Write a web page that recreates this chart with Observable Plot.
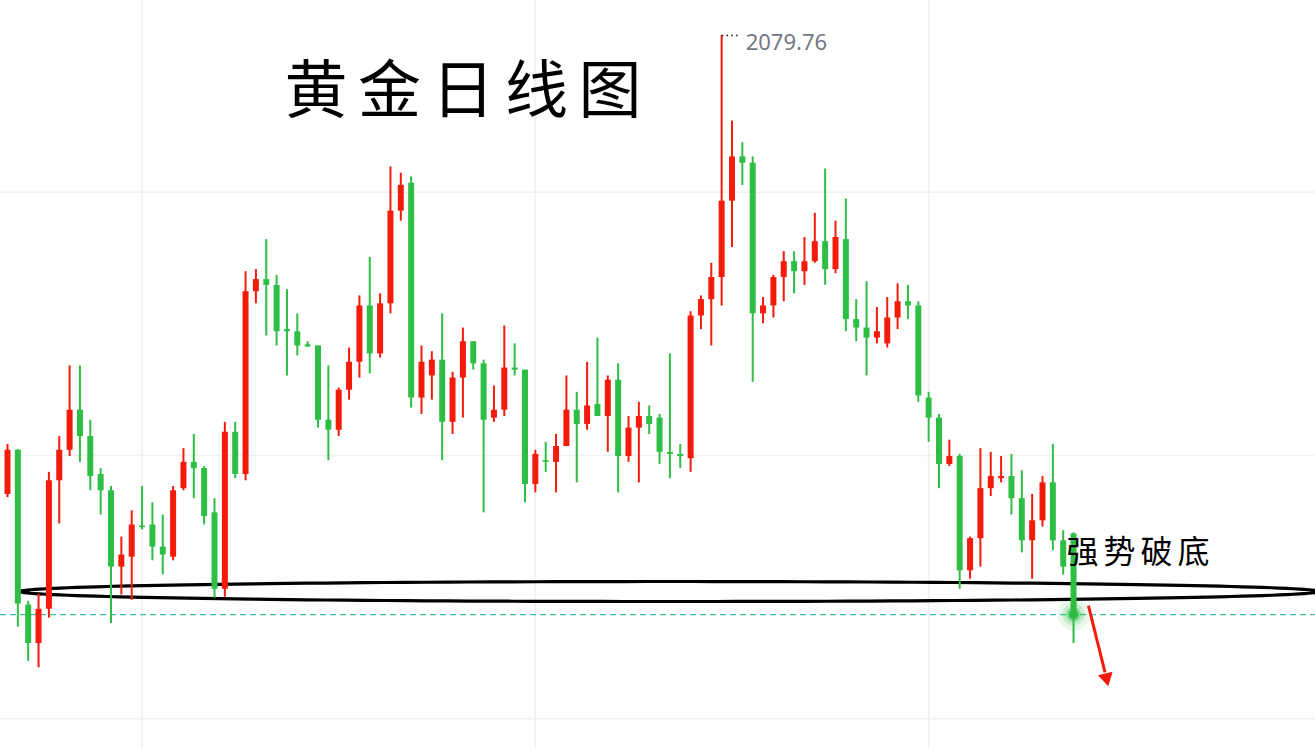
<!DOCTYPE html>
<html><head><meta charset="utf-8">
<script src="https://cdn.jsdelivr.net/npm/d3@7"></script>
<script src="https://cdn.jsdelivr.net/npm/@observablehq/plot@0.6"></script>
<style>html,body{margin:0;padding:0;background:#fff;overflow:hidden}</style>
</head><body><div id="chart"></div>
<script>
// Daily gold candles (price estimates)
const open = [1992.6,2001.0,1971.6,1964.3,1970.8,1995.2,2001.0,2008.6,2003.6,1996.4,
1993.3,1978.8,1980.7,1986.6,1986.8,1982.6,1980.7,1993.7,1998.7,1997.5,
1989.1,1974.6,2004.4,1996.4,2031.1,2033.4,2032.3,2023.9,2023.5,2021.0,
2020.8,2006.7,2004.8,2012.4,2017.7,2028.4,2019.3,2028.8,2046.4,2051.7,
2010.9,2015.1,2018.1,2006.3,2014.7,2021.6,2017.4,2007.1,2008.6,2016.6,
2016.2,1994.5,1999.0,1998.7,2001.7,2008.6,2005.9,2009.7,2007.4,2014.3,
1999.8,2005.2,2007.4,2007.1,2000.6,2000.2,1999.4,2026.5,2029.6,2033.8,
2048.3,2056.7,2055.5,2026.9,2028.4,2033.8,2036.8,2034.9,2036.8,2040.6,
2035.3,2041.0,2025.8,2024.2,2022.3,2021.2,2026.1,2029.2,2028.4,2010.9,
2007.1,1998.3,1999.8,1978.1,1984.2,1993.7,1995.6,1996.0,1991.8,1983.8,
1987.6,1994.8,1983.8,1985.1];
const close = [2001.0,1971.8,1964.3,1970.8,1995.2,2001.0,2008.6,2003.6,1996.0,1993.3,
1978.8,1981.1,1986.8,1986.3,1982.6,1981.1,1993.3,1998.7,1997.5,1988.4,
1974.6,2004.4,1996.4,2031.1,2033.4,2032.3,2023.5,2023.5,2020.8,2020.6,
2006.7,2004.8,2012.4,2017.7,2028.4,2019.3,2028.8,2046.4,2051.3,2010.9,
2017.7,2018.1,2006.3,2014.7,2021.6,2017.4,2006.7,2008.6,2016.6,2016.2,
1994.5,2000.2,1998.7,2001.7,2008.6,2005.9,2009.4,2007.4,2014.3,1999.8,
2005.2,2007.4,2005.9,2000.6,2000.2,1999.8,2026.5,2029.6,2033.8,2048.3,
2056.7,2055.5,2026.9,2028.4,2033.8,2036.8,2034.9,2036.8,2040.6,2035.3,
2041.4,2025.8,2024.2,2022.3,2023.5,2026.1,2029.2,2028.4,2011.3,2007.1,
1998.3,1999.8,1978.1,1984.2,1993.7,1996.0,1996.0,1991.8,1983.8,1987.6,
1994.8,1983.8,1978.8,1969.8];
const high = [2002.1,2001.1,1972.3,1973.7,1996.8,2003.6,2017.0,2017.0,2006.7,1997.5,
1994.1,1984.5,1989.5,1994.1,1991.0,1988.7,1994.1,2001.3,2004.0,1997.9,
1991.8,2006.3,2006.3,2034.9,2035.3,2041.0,2034.2,2031.5,2026.9,2021.6,
2020.8,2017.0,2012.8,2020.4,2030.3,2037.6,2030.7,2054.8,2053.6,2052.9,
2020.8,2019.7,2026.9,2015.8,2024.2,2021.6,2018.1,2013.2,2024.6,2021.2,
2016.2,2001.0,2002.5,2004.0,2015.1,2012.0,2017.7,2022.3,2015.1,2017.4,
2007.4,2010.1,2009.4,2007.8,2019.3,2002.1,2027.3,2030.3,2036.5,2079.76,
2063.5,2059.4,2056.7,2030.0,2034.2,2038.7,2038.7,2041.4,2046.0,2054.4,
2044.5,2048.7,2029.6,2033.0,2028.1,2030.0,2032.6,2032.3,2029.2,2012.0,
2007.8,2002.9,2000.2,1984.5,2001.3,2000.6,1999.8,2000.2,1997.1,1992.6,
1996.0,2002.1,1985.7,1985.3];
const low = [1992.0,1967.4,1960.9,1959.7,1969.1,1987.0,1999.8,1998.7,1993.3,1988.7,
1968.1,1973.5,1972.5,1985.9,1980.0,1977.3,1980.0,1993.3,1991.8,1986.8,
1972.9,1973.1,1995.6,1995.2,2028.8,2022.7,2020.8,2015.1,2018.9,2020.6,
2005.2,1999.0,2003.6,2010.5,2014.7,2015.5,2018.5,2026.9,2044.5,2009.0,
2007.8,2010.5,1999.0,2004.0,2007.1,2016.2,1989.1,2006.3,2007.4,2015.1,
1991.0,1992.9,1996.8,1992.9,2001.7,1994.8,2004.8,2007.4,2000.6,1992.9,
1998.7,1994.8,2004.0,1998.3,1995.6,1997.5,1996.8,2023.9,2020.8,2028.4,
2039.5,2051.3,2013.9,2025.0,2026.1,2029.2,2030.7,2032.3,2036.5,2032.3,
2034.5,2023.5,2021.6,2015.1,2021.2,2020.4,2023.9,2025.8,2010.1,2002.5,
1993.7,1997.9,1974.6,1976.5,1978.8,1992.2,1994.8,1988.7,1981.5,1976.5,
1986.4,1981.9,1977.3,1964.3];

const titleText = "黄金日线图";
const noteText = "强势破底";
const gridPrices = [1950, 2000, 2050];
const gridBars = [13, 51, 89];
// support-zone ellipse (bar index / price units)
const zone = {cx: 63.96, rx: 62.7, cy: 1974.17, ry: 1.9};
// breakdown arrow (bar index / price)
const arrowFrom = {x: 104.44, y: 1971.5};
const arrowTo = {x: 106.04, y: 1958.8};
const arrowHead = {x: 106.16, y: 1957.8};

const RED = "#f41b0b", GREEN = "#2fbe45";
const candles = open.map((o, i) => ({i, open: o, high: high[i], low: low[i], close: close[i], up: close[i] >= o}));
const last = candles[candles.length - 1];
const peak = candles.reduce((a, b) => (b.high > a.high ? b : a));
const ellipse = d3.range(0, 361, 2).map(a => {
  const t = a * Math.PI / 180;
  return {x: zone.cx + zone.rx * Math.cos(t), y: zone.cy + zone.ry * Math.sin(t)};
});
const colorOf = d => (d.up ? RED : GREEN);

const chart = Plot.plot({
  width: 1315, height: 748, margin: 0,
  x: {domain: [-0.6763, 126.377], axis: null},
  y: {domain: [1944.36, 2086.40], axis: null},
  marks: [
    Plot.ruleY(gridPrices, {stroke: "#eef0f4", strokeWidth: 1.6}),
    Plot.ruleX(gridBars, {stroke: "#eef0f4", strokeWidth: 1.6}),
    Plot.ruleY([last], {y: "close", stroke: "#3cbfa6", strokeWidth: 1.2, strokeDasharray: "6,4"}),
    Plot.line(ellipse, {x: "x", y: "y", stroke: "#000", strokeWidth: 3.2}),
    Plot.ruleX(candles, {x: "i", y1: "low", y2: "high", stroke: colorOf, strokeWidth: 2}),
    Plot.ruleX(candles, {x: "i", y1: "open", y2: "close", stroke: colorOf, strokeWidth: 6}),
    Plot.dot([last], {x: "i", y: "close", r: 16, fill: GREEN, fillOpacity: 0.1}),
    Plot.dot([last], {x: "i", y: "close", r: 11, fill: GREEN, fillOpacity: 0.18}),
    Plot.dot([last], {x: "i", y: "close", r: 7.5, fill: GREEN, fillOpacity: 0.35}),
    Plot.dot([last], {x: "i", y: "close", r: 5, fill: GREEN}),
    Plot.link([0], {x1: () => arrowFrom.x, y1: () => arrowFrom.y, x2: () => arrowTo.x, y2: () => arrowTo.y, stroke: RED, strokeWidth: 3}),
    Plot.dot([0], {x: () => arrowHead.x, y: () => arrowHead.y, symbol: "triangle", r: 5.6, fill: RED, stroke: "none", rotate: 166.5}),
    Plot.link([peak], {x1: "i", x2: d => d.i + 1.85, y1: "high", y2: "high", stroke: "#222", strokeWidth: 1.6, strokeDasharray: "1.6,3.2"}),
    Plot.text([peak], {x: "i", y: "high", text: d => d.high.toFixed(2), dx: 24, dy: 7, textAnchor: "start", lineAnchor: "middle", fontSize: 22, fill: "#737783", fontFamily: "Noto Sans"}),
    Plot.text([titleText], {frameAnchor: "top-left", dx: 284, dy: 91, text: d => d, textAnchor: "start", lineAnchor: "middle", fontSize: 63, fill: "#000", fontFamily: "Noto Sans CJK SC", fontWeight: 400}),
    Plot.text([noteText], {frameAnchor: "top-left", dx: 1066, dy: 552, text: d => d, textAnchor: "start", lineAnchor: "middle", fontSize: 32, fill: "#000", fontFamily: "Noto Sans CJK SC", fontWeight: 400})
  ]
});
d3.select(chart).selectAll("text").each(function () {
  if (this.textContent === titleText) this.setAttribute("letter-spacing", "10.5");
  if (this.textContent === noteText) this.setAttribute("letter-spacing", "5");
});
document.getElementById("chart").appendChild(chart);
</script>
</body></html>
